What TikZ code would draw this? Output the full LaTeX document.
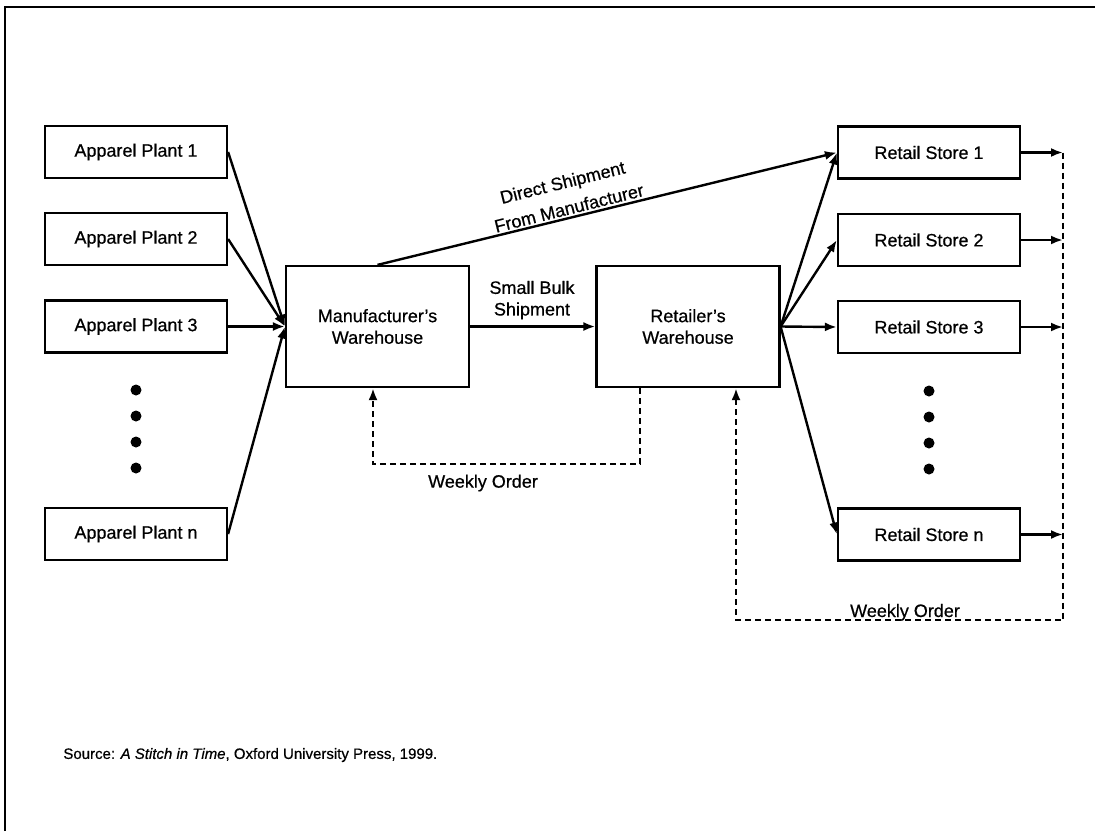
\documentclass[tikz,border=0pt]{standalone}
\usepackage{fontspec}
\setmainfont{Liberation Sans}[FakeBold=0.6]
\usetikzlibrary{arrows.meta}
\begin{document}
\begin{tikzpicture}[x=0.5pt,y=-0.5pt,
  txt/.style={font=\fontsize{9}{10.8}\selectfont, inner sep=0pt},
  box/.style={draw, line width=1.1pt, minimum width=91pt, minimum height=26pt,
    font=\fontsize{9}{10.8}\selectfont, inner sep=0pt},
  house/.style={draw, line width=1.1pt, minimum width=91.5pt, minimum height=60.5pt,
    align=center, font=\fontsize{9}{10.8}\selectfont, inner sep=0pt},
  conn/.style={line width=1.2pt, -{Latex[length=6pt,width=4.5pt]}},
  plain/.style={line width=1.1pt},
  order/.style={line width=1.2pt, dash pattern=on 3pt off 2pt},
  orderarrow/.style={order, -{Latex[length=6pt,width=4.5pt]}},
  dotmark/.style={circle, fill, inner sep=0pt, minimum size=5.5pt}]
\useasboundingbox (0,0) rectangle (1095,831);
% page frame (top and left rules)
\draw[plain] (5,831) -- (5,7) -- (1095,7);

% apparel plants
\node[box] (p1) at (136,152) {Apparel Plant 1};
\node[box] (p2) at (136,239) {Apparel Plant 2};
\node[box] (p3) at (136,326.5) {Apparel Plant 3};
\node[box] (pn) at (136,534) {Apparel Plant n};
\foreach \y/\n in {390/1,416/2,442/3,468/4}
  \node[dotmark] (pd\n) at (136,\y) {};

% warehouses
\node[house] (mw) at (377.5,326.5) {Manufacturer’s\\Warehouse};
\node[house] (rw) at (688,326.5) {Retailer’s\\Warehouse};

% retail stores
\node[box] (s1) at (929,152.5) {Retail Store 1};
\node[box] (s2) at (929,240) {Retail Store 2};
\node[box] (s3) at (929,327) {Retail Store 3};
\node[box] (sn) at (929,534.5) {Retail Store n};
\foreach \y/\n in {391/1,417/2,443/3,469/4}
  \node[dotmark] (sd\n) at (929,\y) {};

% plants to manufacturer
\foreach \p in {p1,p2,p3,pn}
  \draw[conn] (\p.east) -- (mw.west);

% shipments
\draw[conn] (mw.east) -- (rw.west);
\node[txt, align=center] (bulk) at (532,300) {Small Bulk\\Shipment};
\draw[conn] (mw.north) -- (s1.west);
\node[txt, rotate=14] (direct1) at (563,184) {Direct Shipment};
\node[txt, rotate=14] (direct2) at (569,208) {From Manufacturer};

% retailer to stores
\foreach \s in {s1,s2,s3,sn}
  \draw[conn] (rw.east) -- (\s.west);

% store order feedback
\coordinate (rx) at (1063,152.5);
\coordinate (rb) at (1063,620);
\coordinate (lb) at (736,620);
\foreach \s in {s1,s2,s3,sn}
  \draw[conn] (\s.east) -- (\s.east -| rx);
\draw[orderarrow] (rx) -- (rb) -- (lb) -- (lb |- rw.south);
\node[txt, anchor=base] (worder2) at (905,617) {Weekly Order};

% retailer order feedback
\coordinate (mr) at (640,464);
\coordinate (ml) at (373,464);
\draw[orderarrow] (mr |- rw.south) -- (mr) -- (ml) -- (ml |- mw.south);
\node[txt] (worder1) at (483,483) {Weekly Order};

% source line
\node[anchor=west, inner sep=0pt, font=\fontsize{7.5}{9}\selectfont] (src) at (63,755)
  {Source: \textit{A Stitch in Time}, Oxford University Press, 1999.};
\end{tikzpicture}
\end{document}
